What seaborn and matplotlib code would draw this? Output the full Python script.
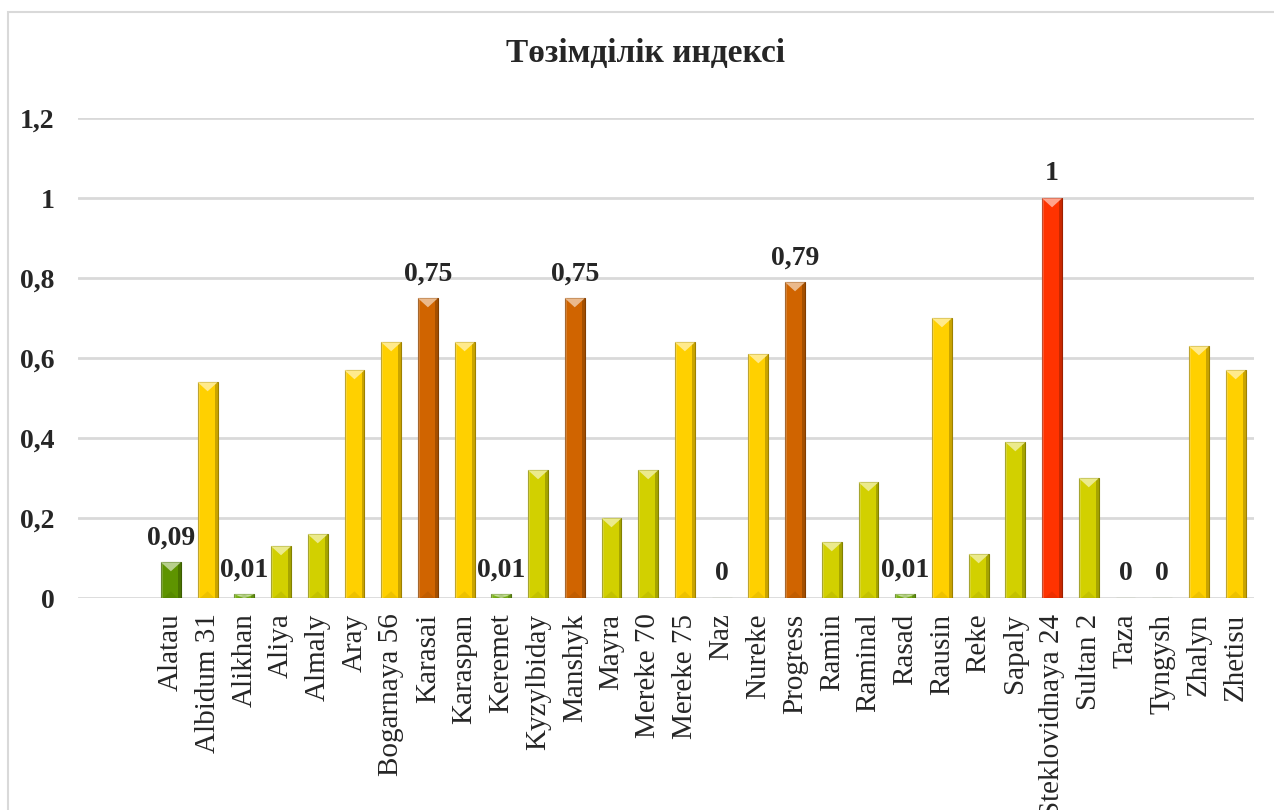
import matplotlib
matplotlib.use("Agg")
import matplotlib.pyplot as plt
import matplotlib.colors as mcolors
from matplotlib.patches import Polygon, Rectangle
import seaborn as sns
import pandas as pd

# Cultivars and their tolerance index
cultivars = [
    "Alatau", "Albidum 31", "Alikhan", "Aliya", "Almaly", "Aray", "Bogarnaya 56",
    "Karasai", "Karaspan", "Keremet", "Kyzylbiday", "Manshyk", "Mayra", "Mereke 70",
    "Mereke 75", "Naz", "Nureke", "Progress", "Ramin", "Raminal", "Rasad", "Rausin",
    "Reke", "Sapaly", "Steklovidnaya 24", "Sultan 2", "Taza", "Tyngysh", "Zhalyn",
    "Zhetisu",
]
index_values = [
    0.09, 0.54, 0.01, 0.13, 0.16, 0.57, 0.64,
    0.75, 0.64, 0.01, 0.32, 0.75, 0.20, 0.32,
    0.64, 0.00, 0.61, 0.79, 0.14, 0.29, 0.01, 0.70,
    0.11, 0.39, 1.00, 0.30, 0.00, 0.00, 0.63,
    0.57,
]
# Bars that carry a value label
labelled = ["Alatau", "Alikhan", "Karasai", "Keremet", "Manshyk", "Naz",
            "Progress", "Rasad", "Steklovidnaya 24", "Taza", "Tyngysh"]
y_ticks = [0, 0.2, 0.4, 0.6, 0.8, 1.0, 1.2]
title = "Төзімділік индексі"


def value_colour(v):
    if v < 0.05:
        return "#7cb518"
    if v < 0.1:
        return "#5e9400"
    if v < 0.45:
        return "#d2d000"
    if v < 0.72:
        return "#ffd000"
    if v < 0.9:
        return "#d06400"
    return "#ff3300"


def fmt(v):
    s = f"{v:.2f}".rstrip("0").rstrip(".")
    return s.replace(".", ",")


df = pd.DataFrame({"cultivar": cultivars, "value": index_values})
palette = {c: value_colour(v) for c, v in zip(cultivars, index_values)}

sns.set_theme(style="white")
plt.rcParams["font.family"] = ["Liberation Serif", "DejaVu Serif"]

fig = plt.figure(figsize=(12.74, 8.10), dpi=100)
fig.patch.set_facecolor("white")
ax = fig.add_axes([78 / 1274, 1 - 598.3 / 810, (1254 - 78) / 1274, (598.3 - 118.3) / 810])

sns.barplot(data=df, x="cultivar", y="value", hue="cultivar", palette=palette,
            legend=False, width=0.54, saturation=1, ax=ax, zorder=3)

ax.set_xlim(-2.53, 29.5)
ax.set_ylim(0, 1.2)

# bevelled look: darker edge, shaded sides, light top facet
px_per_unit_y = (598.3 - 118.3) / 1.2
for patch, v in zip(ax.patches, index_values):
    x0, w, h = patch.get_x(), patch.get_width(), patch.get_height()
    base = mcolors.to_rgb(patch.get_facecolor())
    dark = tuple(c * 0.62 for c in base)
    light = tuple(min(1, c + (1 - c) * 0.55) for c in base)
    patch.set_edgecolor(dark)
    patch.set_linewidth(0.8)
    if h <= 0:
        continue
    ax.add_patch(Rectangle((x0 + w * 0.86, 0), w * 0.14, h, facecolor=dark,
                           alpha=0.55, lw=0, zorder=4))
    ax.add_patch(Rectangle((x0, 0), w * 0.1, h, facecolor=light,
                           alpha=0.35, lw=0, zorder=4))
    d = min(9 / px_per_unit_y, h)
    ax.add_patch(Polygon([(x0, h), (x0 + w, h), (x0 + w / 2, h - d)],
                         closed=True, facecolor=light, lw=0, zorder=5))
    db = min(7 / px_per_unit_y, h)
    ax.add_patch(Polygon([(x0 + w * 0.1, 0), (x0 + w * 0.86, 0), (x0 + w / 2, db)],
                         closed=True, facecolor=dark, alpha=0.18, lw=0, zorder=5))

# value labels
for i, (c, v) in enumerate(zip(cultivars, index_values)):
    if c in labelled:
        ax.annotate(fmt(v), (i, v), xytext=(0, 13), textcoords="offset points",
                    ha="center", va="baseline", fontsize=20, fontweight="bold",
                    color="#262626", zorder=6)

ax.set_yticks(y_ticks)
ax.set_yticklabels([fmt(t) for t in y_ticks], fontsize=20, fontweight="bold",
                   color="#262626")
ax.yaxis.grid(True, color="#d9d9d9", linewidth=2, zorder=0)
ax.set_axisbelow(True)
for s in ax.spines.values():
    s.set_visible(False)
ax.tick_params(axis="y", length=0, pad=17)
ax.tick_params(axis="x", length=0, pad=11)
ax.set_xticks(range(len(cultivars)))
ax.set_xticklabels(cultivars, rotation=90, fontsize=21, color="#262626",
                   ha="center", va="top")
ax.set_xlabel("")
ax.set_ylabel("")

fig.text(646 / 1274, 1 - 54 / 810, title, ha="center", va="center",
         fontsize=24, fontweight="bold", color="#262626")

# chart frame
fig.add_artist(Rectangle((8 / 1274, -0.05), 1.2, 1 - 12 / 810 + 0.05,
                         transform=fig.transFigure, fill=False,
                         edgecolor="#d9d9d9", linewidth=1.5))

fig.savefig("out.png", dpi=100)
